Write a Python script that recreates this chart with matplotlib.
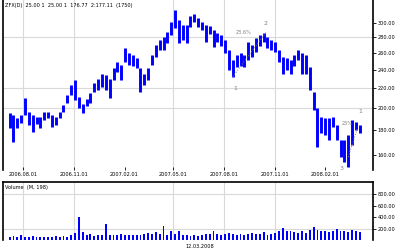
import numpy as np
import pandas as pd
import matplotlib
matplotlib.use("Agg")
import matplotlib.pyplot as plt

# --- weekly bars (price, log scale) ---
week_start = "2006-07-07"
highs = [195, 193.5, 191, 193.5, 210, 196, 193.5, 192, 192, 196,
         196, 193.5, 192, 196, 203, 213, 223, 228, 211, 204,
         209, 215, 225, 230, 235.5, 234, 230, 241.5, 249, 245,
         266, 260, 257, 253.5, 241.5, 235.5, 241.5, 257, 270, 276,
         280, 287.5, 301, 318.5, 304, 297, 297, 309, 313, 306,
         301, 297, 295.5, 290, 286, 283, 276, 263, 251, 257,
         260, 257, 274, 270, 279, 283, 286, 280, 276, 274,
         263, 255, 253.5, 251, 257, 263, 260, 257, 243, 216,
         200, 192, 191, 191, 192, 184.5, 172, 172, 176, 189,
         187, 184.5]
lows = [182, 170, 182, 186, 193.5, 184.5, 178.5, 185.5, 182, 189,
        191, 183, 184.5, 191, 196, 205, 213, 208, 200, 195,
        202, 205, 216, 218, 221, 218, 210, 228, 237, 228,
        249, 245, 244, 241.5, 216, 223, 228, 245, 255, 263,
        263, 272.5, 283, 293, 272.5, 276, 272.5, 294, 301, 294,
        290, 274, 284.5, 267, 274, 268.5, 260, 240, 232, 243,
        244, 243, 251, 255, 261, 268.5, 274, 266, 263, 261,
        249, 235.5, 240, 235.5, 244, 251, 235.5, 235.5, 218, 198,
        166, 177.5, 176, 172, 183, 172, 158.5, 155, 151, 168,
        180, 177.5]
volume = [60, 70, 55, 80, 60, 55, 70, 60, 50, 55,
          60, 55, 65, 60, 70, 60, 90, 120, 405, 145,
          90, 105, 70, 80, 85, 280, 90, 95, 85, 100,
          90, 85, 80, 85, 95, 100, 120, 110, 145, 100,
          245, 90, 155, 110, 160, 90, 80, 70, 80, 70,
          90, 110, 105, 155, 100, 90, 110, 120, 100, 95,
          105, 90, 110, 120, 100, 110, 140, 95, 110, 130,
          150, 210, 165, 150, 140, 120, 150, 130, 170, 230,
          175, 160, 150, 140, 160, 190, 150, 160, 140, 175,
          150, 140]

tick_dates = ["2006-08-01", "2006-11-01", "2007-02-01", "2007-05-01",
              "2007-08-01", "2007-11-01", "2008-02-01"]
tick_labels = ["2006.08.01", "2006.11.01", "2007.02.01", "2007.05.01",
               "2007.08.01", "2007.11.01", "2008.02.01"]
grid_dates = ["2006-08-01", "2006-11-01", "2007-05-01", "2007-08-01", "2007-11-01"]
price_ticks = [160, 180, 200, 220, 240, 260, 280, 300]
price_grid = [200, 220, 280]
vol_ticks = [200, 400, 600, 800]
vol_grid = [200, 800]

BLUE = "#0000ff"
GRID = "#d9d9d9"
NOTE = "#808080"
FS = 3.6

dates = pd.date_range(week_start, periods=len(highs), freq="W-FRI")
xlim = (pd.Timestamp("2006-06-25"), pd.Timestamp("2008-04-28"))

fig = plt.figure(figsize=(4, 2.5), dpi=100)
ax = fig.add_axes([0.0075, 0.32, 0.925, 0.68])
axv = fig.add_axes([0.0075, 0.04, 0.925, 0.232])

# --- price panel ---
ax.vlines(dates, lows, highs, color=BLUE, linewidth=2.1)
ax.set_yscale("log")
ax.set_ylim(149, 334)
ax.set_xlim(*xlim)
for d in grid_dates:
    ax.axvline(pd.Timestamp(d), color=GRID, linewidth=0.8, zorder=0)
for p in price_grid:
    ax.axhline(p, color=GRID, linewidth=0.8, zorder=0)

ax.yaxis.tick_right()
ax.yaxis.set_minor_locator(matplotlib.ticker.NullLocator())
ax.set_yticks(price_ticks)
ax.set_yticklabels([f"{p}.00" for p in price_ticks])
ax.tick_params(axis="y", labelsize=FS, length=2, width=0.6, pad=1.5)
ax.set_xticks([pd.Timestamp(d) for d in tick_dates])
ax.set_xticklabels(tick_labels)
ax.tick_params(axis="x", labelsize=FS, length=2, width=0.6, pad=1.5, direction="in")
for s in ["top", "bottom"]:
    ax.spines[s].set_visible(False)
for s in ["left", "right"]:
    ax.spines[s].set_linewidth(1.2)

ax.text(0.006, 0.985, "ZFX(D)  25.00 1  25.00 1  176.77  2:177.11  (1750)",
        transform=ax.transAxes, fontsize=FS, va="top", ha="left")

# wave / fib notes
ax.text(pd.Timestamp("2007-10-16"), 299, "2", fontsize=4.5, color=NOTE, ha="center", va="center")
ax.text(pd.Timestamp("2007-09-05"), 286, "23.6%", fontsize=FS, color=NOTE, ha="center", va="center")
ax.text(pd.Timestamp("2007-08-21"), 219, "1", fontsize=4.5, color=NOTE, ha="center", va="center")
ax.plot([pd.Timestamp("2007-08-17"), pd.Timestamp("2007-10-16")], [232, 286],
        color=NOTE, linestyle=":", linewidth=0.7)
ax.text(pd.Timestamp("2008-04-04"), 197, "1", fontsize=4.5, color=NOTE, ha="center", va="center")
ax.text(pd.Timestamp("2008-03-12"), 186, "25%", fontsize=FS, color=NOTE, ha="center", va="center")
ax.text(pd.Timestamp("2008-03-01"), 150, "3", fontsize=4.5, color=NOTE, ha="center", va="center")
ax.plot([pd.Timestamp("2008-03-14"), pd.Timestamp("2008-03-31")], [158.5, 182],
        color=NOTE, linestyle=":", linewidth=0.7)

# --- volume panel ---
axv.bar(dates, volume, width=3.4, color=BLUE, linewidth=0)
axv.set_xlim(*xlim)
axv.set_ylim(0, 1017)
for d in grid_dates:
    axv.axvline(pd.Timestamp(d), color=GRID, linewidth=0.8, zorder=0)
for v in vol_grid:
    axv.axhline(v, color=GRID, linewidth=0.8, zorder=0)
axv.yaxis.tick_right()
axv.set_yticks(vol_ticks)
axv.set_yticklabels([f"{v}.00" for v in vol_ticks])
axv.tick_params(axis="y", labelsize=FS, length=2, width=0.6, pad=1.5)
axv.set_xticks([])
axv.spines["bottom"].set_visible(False)
for s in ["left", "right", "top"]:
    axv.spines[s].set_linewidth(1.2)
axv.text(0.006, 0.95, "Volume  (M, 198)", transform=axv.transAxes,
         fontsize=FS, va="top", ha="left")

fig.text(0.5, 0.012, "12.03.2008", fontsize=FS, ha="center", va="center")

fig.savefig("out.png", dpi=100)
